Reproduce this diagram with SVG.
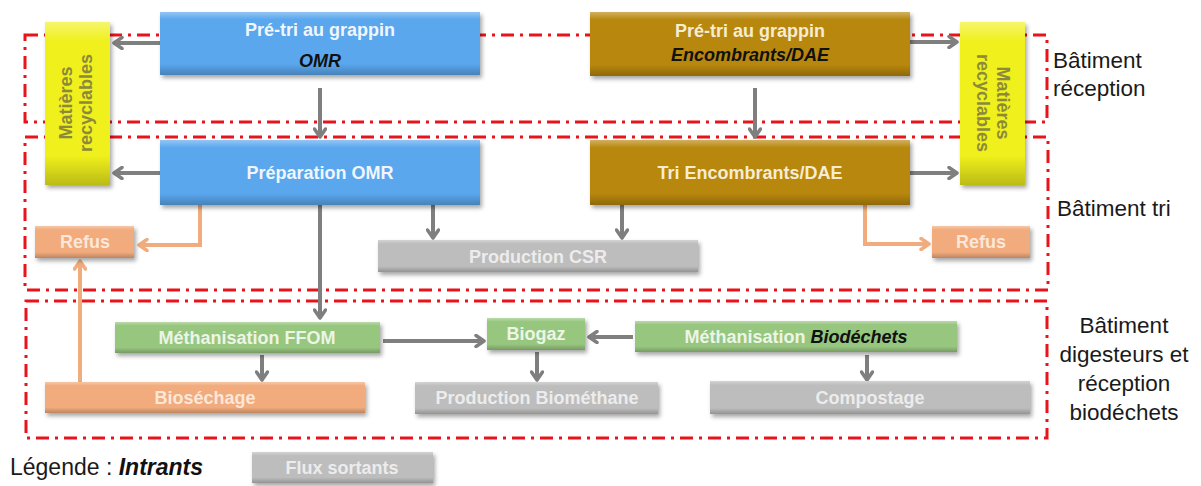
<svg xmlns="http://www.w3.org/2000/svg" width="1201" height="486" viewBox="0 0 1201 486">
  <style>
    .zone { fill: none; stroke: #e8141b; stroke-width: 3; stroke-dasharray: 13 6 3 6; }
    .blue { fill: #5aa7ee; }
    .brown { fill: #b8870b; }
    .yellow { fill: #f0f01a; }
    .orange { fill: #f1ab7c; }
    .grey { fill: #bdbdbd; }
    .green { fill: #97c67f; }
    .bev { fill: url(#bevel); }
    .lbl { font-family: "Liberation Sans", Arial, sans-serif; font-weight: bold; font-size: 18px; text-anchor: middle; }
    .lt-blue { fill: #f0f6fd; }
    .lt-brown { fill: #f6ecd2; }
    .lt-orange { fill: #fde7d8; }
    .lt-grey { fill: #ececec; }
    .lt-green { fill: #ecf5e6; }
    .dark { fill: #111; font-style: italic; }
    .rec { fill: #8c8a3a; }
    .side { font-family: "Liberation Sans", Arial, sans-serif; font-size: 22.5px; fill: #1a1a1a; }
    .flow { fill: none; stroke: #7f7f7f; stroke-width: 4; }
    .reject { fill: none; stroke: #f1ab7c; stroke-width: 4; }
  </style>
  <defs>
    <linearGradient id="bevel" x1="0" y1="0" x2="0" y2="1">
      <stop offset="0" stop-color="#fff" stop-opacity="0.35"/>
      <stop offset="0.12" stop-color="#fff" stop-opacity="0"/>
      <stop offset="0.82" stop-color="#000" stop-opacity="0"/>
      <stop offset="1" stop-color="#000" stop-opacity="0.22"/>
    </linearGradient>
    <filter id="sh" x="-10%" y="-20%" width="130%" height="160%">
      <feDropShadow dx="2" dy="3" stdDeviation="2" flood-color="#000" flood-opacity="0.35"/>
    </filter>
    <marker id="ag" viewBox="0 0 12 14" refX="10" refY="7" markerWidth="12" markerHeight="14" orient="auto" markerUnits="userSpaceOnUse">
      <path d="M2,1.5 L10,7 L2,12.5" fill="none" stroke="#7f7f7f" stroke-width="3.5" stroke-linecap="round" stroke-linejoin="round"/>
    </marker>
    <marker id="ao" viewBox="0 0 12 14" refX="10" refY="7" markerWidth="12" markerHeight="14" orient="auto" markerUnits="userSpaceOnUse">
      <path d="M2,1.5 L10,7 L2,12.5" fill="none" stroke="#f1ab7c" stroke-width="3.5" stroke-linecap="round" stroke-linejoin="round"/>
    </marker>
  </defs>

  <rect width="1201" height="486" fill="#fff"/>

  <!-- building zones -->
  <g id="zones">
    <rect class="zone" x="25" y="35" width="1022" height="87"/>
    <rect class="zone" x="25" y="137" width="1023" height="153"/>
    <rect class="zone" x="26" y="301" width="1021" height="137"/>
    <text class="side" x="1053" y="68">Bâtiment</text>
    <text class="side" x="1053" y="96">réception</text>
    <text class="side" x="1057" y="216">Bâtiment tri</text>
    <text class="side" x="1124" y="333" text-anchor="middle">Bâtiment</text>
    <text class="side" x="1124" y="362" text-anchor="middle">digesteurs et</text>
    <text class="side" x="1124" y="391" text-anchor="middle">réception</text>
    <text class="side" x="1124" y="420" text-anchor="middle">biodéchets</text>
  </g>

  <!-- connectors -->
  <g id="connectors">
    <line class="flow" x1="160" y1="43" x2="114" y2="43" marker-end="url(#ag)"/>
    <line class="flow" x1="160" y1="173" x2="114" y2="173" marker-end="url(#ag)"/>
    <line class="flow" x1="320" y1="88" x2="320" y2="137" marker-end="url(#ag)"/>
    <line class="flow" x1="755" y1="88" x2="755" y2="137" marker-end="url(#ag)"/>
    <line class="flow" x1="910" y1="42" x2="957" y2="42" marker-end="url(#ag)"/>
    <line class="flow" x1="910" y1="173" x2="957" y2="173" marker-end="url(#ag)"/>
    <line class="flow" x1="433" y1="205" x2="433" y2="238" marker-end="url(#ag)"/>
    <line class="flow" x1="622" y1="205" x2="622" y2="238" marker-end="url(#ag)"/>
    <line class="flow" x1="320" y1="205" x2="320" y2="318" marker-end="url(#ag)"/>
    <line class="flow" x1="383" y1="341" x2="484" y2="341" marker-end="url(#ag)"/>
    <line class="flow" x1="633" y1="337" x2="589" y2="337" marker-end="url(#ag)"/>
    <line class="flow" x1="537" y1="352" x2="537" y2="380" marker-end="url(#ag)"/>
    <line class="flow" x1="262" y1="355" x2="262" y2="380" marker-end="url(#ag)"/>
    <line class="flow" x1="867" y1="355" x2="867" y2="380" marker-end="url(#ag)"/>
    <polyline class="reject" points="200,205 200,245 139,245" marker-end="url(#ao)"/>
    <polyline class="reject" points="865,205 865,244 929,244" marker-end="url(#ao)"/>
    <line class="reject" x1="80" y1="382" x2="80" y2="261" marker-end="url(#ao)"/>
  </g>

  <!-- nodes -->
  <g id="pretri-omr">
    <rect class="blue" x="160" y="12" width="320" height="63" filter="url(#sh)"/>
    <rect class="bev" x="160" y="12" width="320" height="63"/>
    <text class="lbl lt-blue" x="320" y="36">Pré-tri au grappin</text>
    <text class="lbl dark" x="320" y="67">OMR</text>
  </g>
  <g id="pretri-enc">
    <rect class="brown" x="590" y="12" width="320" height="64" filter="url(#sh)"/>
    <rect class="bev" x="590" y="12" width="320" height="64"/>
    <text class="lbl lt-brown" x="750" y="37">Pré-tri au grappin</text>
    <text class="lbl dark" x="750" y="61">Encombrants/DAE</text>
  </g>
  <g id="recyclables-gauche">
    <rect class="yellow" x="45" y="22" width="65" height="163" filter="url(#sh)"/>
    <rect class="bev" x="45" y="22" width="65" height="163"/>
    <text class="lbl rec" transform="translate(77,103) rotate(-90)" y="-5">Matières</text>
    <text class="lbl rec" transform="translate(77,103) rotate(-90)" y="15">recyclables</text>
  </g>
  <g id="recyclables-droite">
    <rect class="yellow" x="960" y="22" width="65" height="163" filter="url(#sh)"/>
    <rect class="bev" x="960" y="22" width="65" height="163"/>
    <text class="lbl rec" transform="translate(992,103) rotate(90)" y="-5">Matières</text>
    <text class="lbl rec" transform="translate(992,103) rotate(90)" y="15">recyclables</text>
  </g>
  <g id="preparation-omr">
    <rect class="blue" x="160" y="140" width="320" height="65" filter="url(#sh)"/>
    <rect class="bev" x="160" y="140" width="320" height="65"/>
    <text class="lbl lt-blue" x="320" y="179">Préparation OMR</text>
  </g>
  <g id="tri-enc">
    <rect class="brown" x="590" y="140" width="320" height="65" filter="url(#sh)"/>
    <rect class="bev" x="590" y="140" width="320" height="65"/>
    <text class="lbl lt-brown" x="750" y="179">Tri Encombrants/DAE</text>
  </g>
  <g id="refus-gauche">
    <rect class="orange" x="35" y="226" width="99" height="32" filter="url(#sh)"/>
    <rect class="bev" x="35" y="226" width="99" height="32"/>
    <text class="lbl lt-orange" x="85" y="248">Refus</text>
  </g>
  <g id="refus-droite">
    <rect class="orange" x="932" y="226" width="98" height="32" filter="url(#sh)"/>
    <rect class="bev" x="932" y="226" width="98" height="32"/>
    <text class="lbl lt-orange" x="981" y="248">Refus</text>
  </g>
  <g id="production-csr">
    <rect class="grey" x="378" y="240" width="320" height="32" filter="url(#sh)"/>
    <rect class="bev" x="378" y="240" width="320" height="32"/>
    <text class="lbl lt-grey" x="538" y="263">Production CSR</text>
  </g>
  <g id="methanisation-ffom">
    <rect class="green" x="115" y="322" width="265" height="31" filter="url(#sh)"/>
    <rect class="bev" x="115" y="322" width="265" height="31"/>
    <text class="lbl lt-green" x="247" y="344">Méthanisation FFOM</text>
  </g>
  <g id="biogaz">
    <rect class="green" x="487" y="318" width="98" height="32" filter="url(#sh)"/>
    <rect class="bev" x="487" y="318" width="98" height="32"/>
    <text class="lbl lt-green" x="536" y="340">Biogaz</text>
  </g>
  <g id="methanisation-biodechets">
    <rect class="green" x="635" y="321" width="322" height="31" filter="url(#sh)"/>
    <rect class="bev" x="635" y="321" width="322" height="31"/>
    <text class="lbl" x="796" y="343"><tspan class="lt-green">Méthanisation </tspan><tspan class="dark">Biodéchets</tspan></text>
  </g>
  <g id="bioséchage">
    <rect class="orange" x="45" y="382" width="320" height="31" filter="url(#sh)"/>
    <rect class="bev" x="45" y="382" width="320" height="31"/>
    <text class="lbl lt-orange" x="205" y="404">Bioséchage</text>
  </g>
  <g id="production-biomethane">
    <rect class="grey" x="415" y="382" width="243" height="32" filter="url(#sh)"/>
    <rect class="bev" x="415" y="382" width="243" height="32"/>
    <text class="lbl lt-grey" x="537" y="404">Production Biométhane</text>
  </g>
  <g id="compostage">
    <rect class="grey" x="710" y="381" width="320" height="33" filter="url(#sh)"/>
    <rect class="bev" x="710" y="381" width="320" height="33"/>
    <text class="lbl lt-grey" x="870" y="404">Compostage</text>
  </g>

  <!-- legend -->
  <g id="legende">
    <text x="10" y="475" font-family="'Liberation Sans', Arial, sans-serif" font-size="23" fill="#1a1a1a">Légende : <tspan font-weight="bold" font-style="italic" fill="#111">Intrants</tspan></text>
    <rect class="grey" x="252" y="452" width="181" height="31" filter="url(#sh)"/>
    <rect class="bev" x="252" y="452" width="181" height="31"/>
    <text class="lbl lt-grey" x="342" y="474">Flux sortants</text>
  </g>
</svg>
